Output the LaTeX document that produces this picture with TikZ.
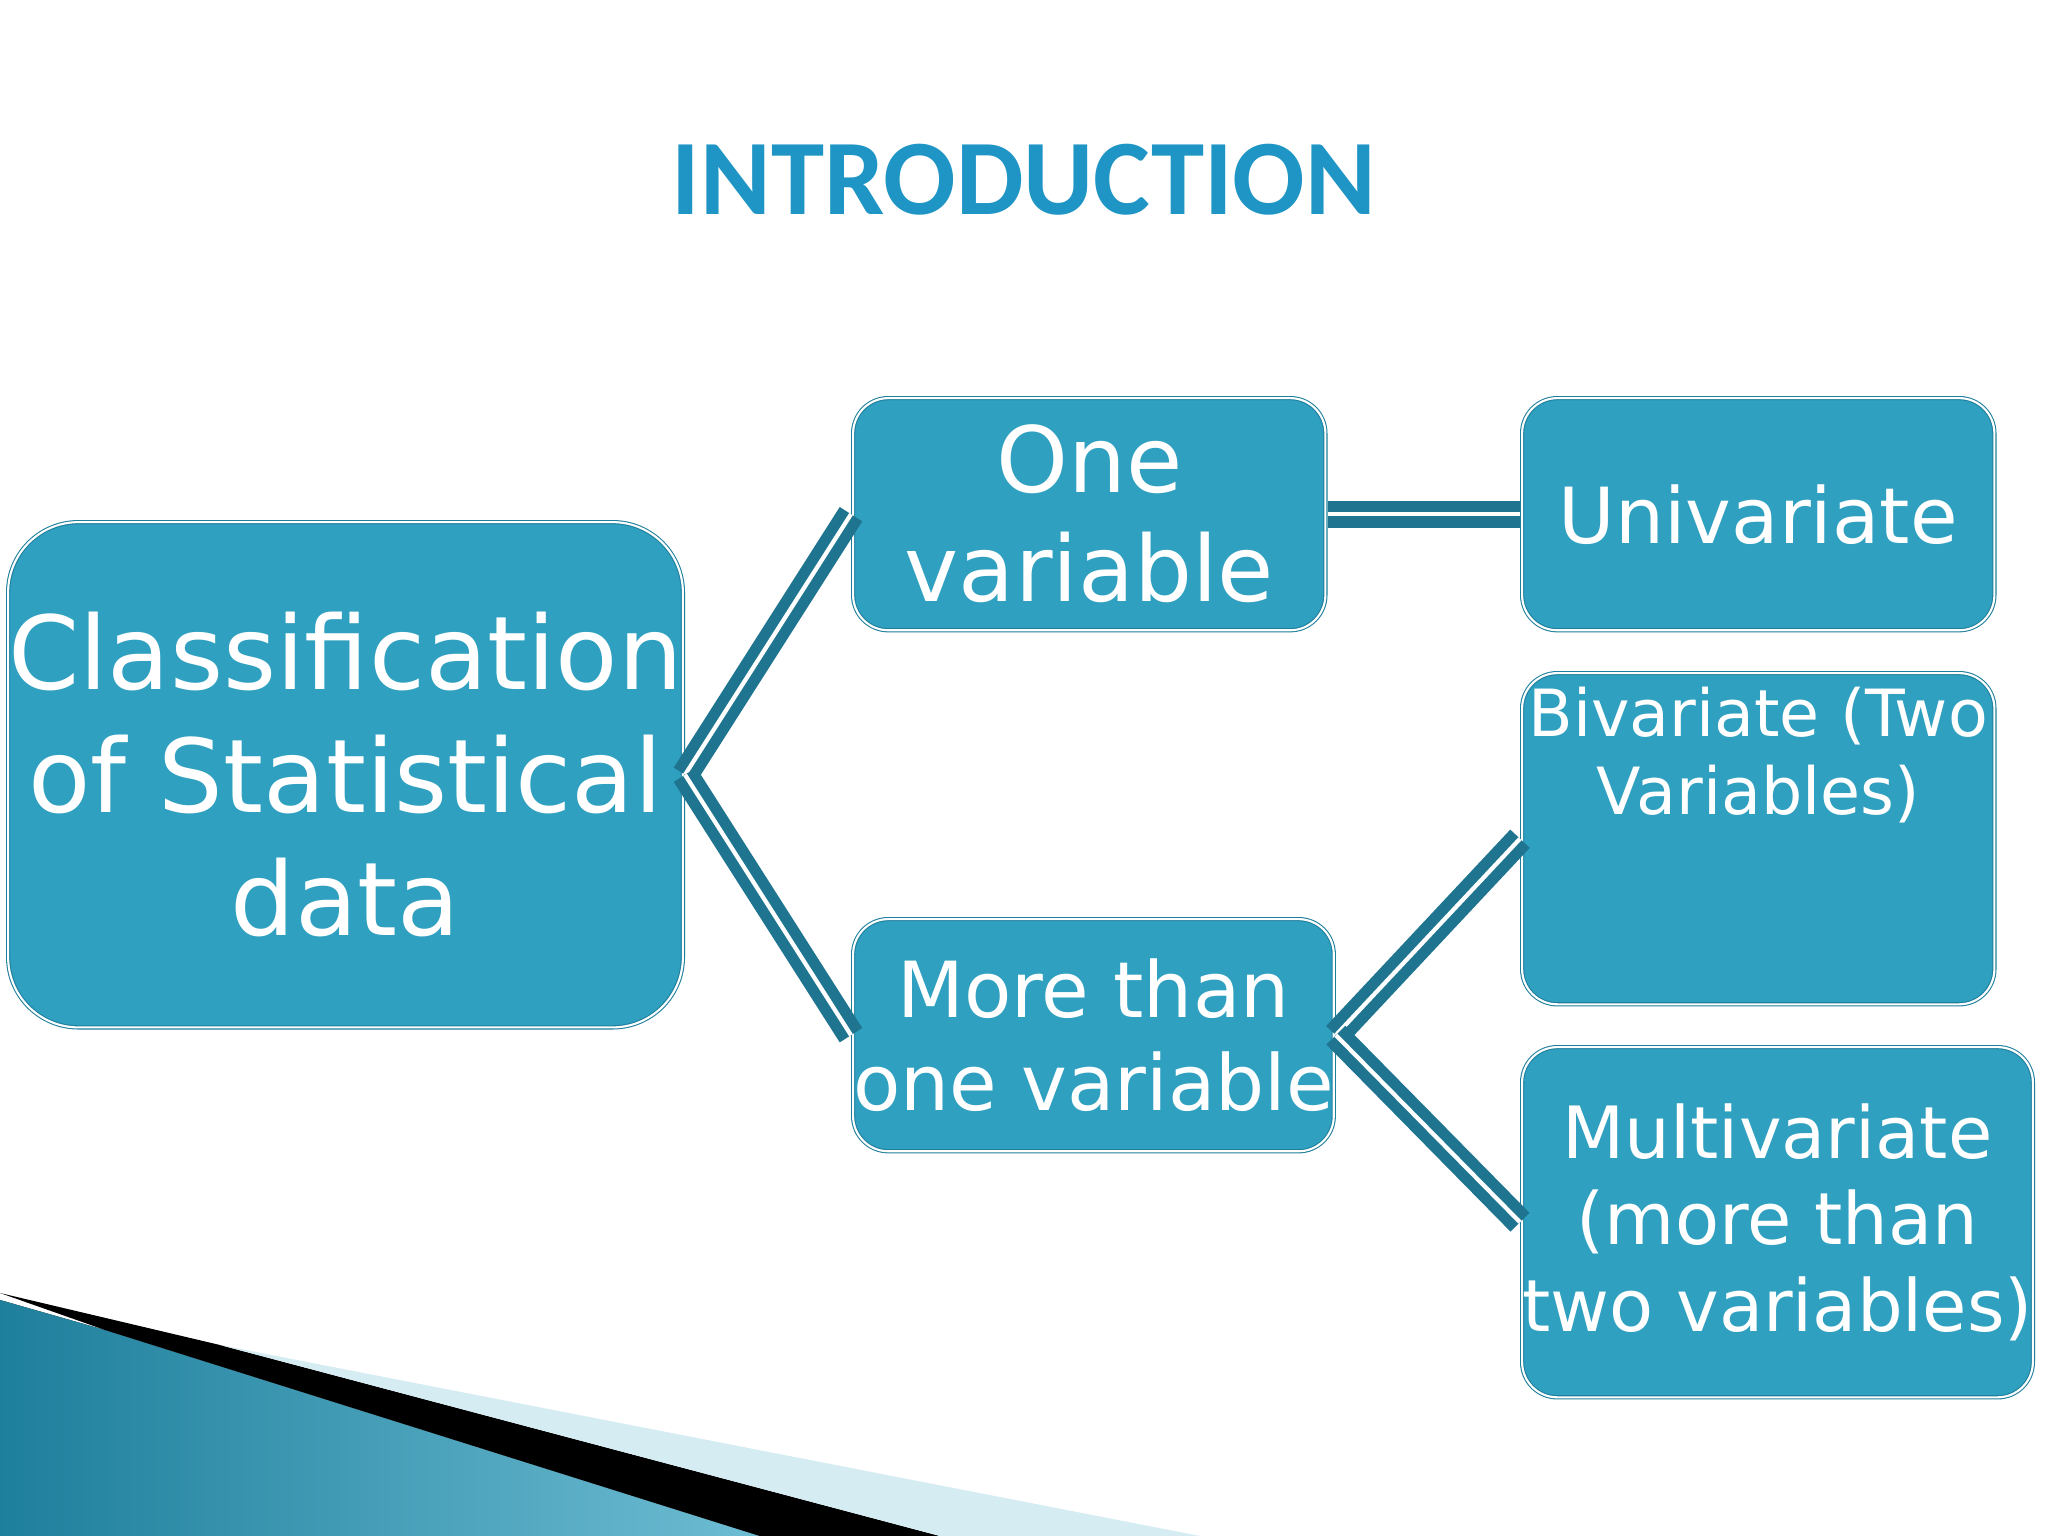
\documentclass[tikz,border=0pt]{standalone}
\usepackage{fontspec}
\setmainfont{DejaVu Sans}
\newfontfamily\titlefont{Carlito}
\definecolor{boxfill}{HTML}{2FA0C0}
\definecolor{boxline}{HTML}{1E7F9C}
\definecolor{conn}{HTML}{1F7590}
\definecolor{titlec}{HTML}{1E95C4}
\tikzset{
 box/.style={draw=boxline, line width=1.2pt, fill=boxfill, rounded corners=10pt, text=white, align=center, inner sep=0pt,
   postaction={draw=white, line width=0.6pt}},
 link/.style={draw=conn, line width=3.2pt, double=white, double distance=1.2pt}
}
\begin{document}
\begin{tikzpicture}[x=0.01cm,y=-0.01cm]
\useasboundingbox (0,0) rectangle (2048,1536);
\fill[white] (0,0) rectangle (2048,1536);
% bottom-left swoosh
\fill[left color=boxline, right color=boxfill!70] (0,1300) -- (105,1330) -- (760,1536) -- (0,1536) -- cycle;
\fill[black] (0,1293) -- (220,1345) -- (940,1536) -- (760,1536) -- (105,1330) -- cycle;
\fill[boxfill!20] (220,1345) -- (1200,1536) -- (940,1536) -- cycle;
\node[text=titlec, font=\titlefont\bfseries\fontsize{30.5}{34}\selectfont] (title) at (1024,180) {INTRODUCTION};
\node[box, minimum width=6.46cm, minimum height=5.05cm, anchor=north west, font=\fontsize{29}{35}\selectfont, rounded corners=20pt] (cls) at (6,520) {Classification\\of Statistical\\data};
\node[box, minimum width=4.72cm, minimum height=2.32cm, anchor=north west, font=\fontsize{26}{31}\selectfont] (one) at (851,396) {One\\variable};
\node[box, minimum width=4.72cm, minimum height=2.32cm, anchor=north west, font=\fontsize{22}{26}\selectfont] (uni) at (1520,396) {Univariate};
\node[box, minimum width=4.72cm, minimum height=2.32cm, anchor=north west, font=\fontsize{22}{26.5}\selectfont] (more) at (851,917) {More than\\one variable};
\node[box, minimum width=4.72cm, minimum height=3.31cm, anchor=north west, font=\fontsize{18.5}{22}\selectfont] (bi) at (1520,671) {Bivariate (Two\\Variables)\\[28pt]};
\node[box, minimum width=4.72cm, minimum height=3.50cm, anchor=north west, font=\fontsize{20.5}{24.5}\selectfont] (multi) at (1520,1045) {Multivariate\\(more than\\two variables)};
\draw[link] (cls.east) -- (one.west);
\draw[link] (cls.east) -- (more.west);
\draw[link] (one.east) -- (uni.west);
\draw[link] (more.east) -- (bi.west);
\draw[link] (more.east) -- (multi.west);
\end{tikzpicture}
\end{document}
